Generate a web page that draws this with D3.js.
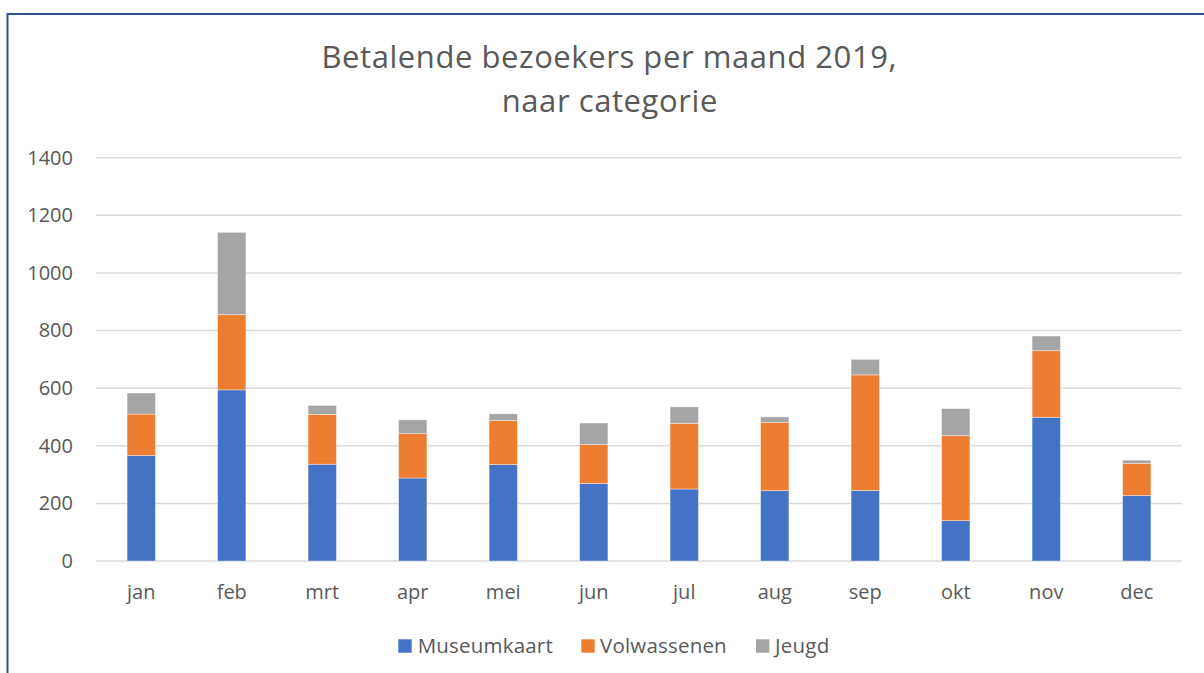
<!DOCTYPE html>
<html>
<head>
<meta charset="utf-8">
<script src="https://cdn.jsdelivr.net/npm/d3@7"></script>
<style>
  html, body { margin: 0; padding: 0; background: #fff; }
  svg { display: block; }
  text { font-family: "Open Sans", "Noto Sans", sans-serif; fill: #595959; }
</style>
</head>
<body>
<svg id="chart" width="1204" height="673"></svg>
<script>
const months = ["jan", "feb", "mrt", "apr", "mei", "jun", "jul", "aug", "sep", "okt", "nov", "dec"];
const seriesNames = ["Museumkaart", "Volwassenen", "Jeugd"];
const museumkaart = [366, 594, 336, 288, 335, 269, 250, 244, 245, 140, 499, 227];
const volwassenen = [144, 261, 173, 154, 153, 135, 228, 237, 401, 295, 231, 112];
const jeugd = [73, 286, 31, 48, 23, 75, 57, 19, 54, 94, 51, 11];
const yTicks = [0, 200, 400, 600, 800, 1000, 1200, 1400];
const colors = ["#4472C4", "#ED7D31", "#A5A5A5"];

const svg = d3.select("#chart");
const W = 1204, H = 673;

// outer border (left and top visible)
svg.append("rect")
  .attr("x", 7.5).attr("y", 14).attr("width", W + 20).attr("height", H + 20)
  .attr("fill", "none").attr("stroke", "#2F528F").attr("stroke-width", 2);

const plot = { left: 96, right: 1182, top: 157.7, bottom: 561 };

const x = d3.scaleBand().domain(months)
  .range([plot.left, plot.right]).paddingInner(0.687).paddingOuter(0.3435);
const y = d3.scaleLinear().domain([0, 1400]).range([plot.bottom, plot.top]);

// title
const title = svg.append("text").attr("text-anchor", "middle").attr("font-size", 31);
title.append("tspan").attr("x", 609).attr("y", 67.5)
  .attr("textLength", 575).attr("lengthAdjust", "spacing")
  .text("Betalende bezoekers per maand 2019,");
title.append("tspan").attr("x", 609.5).attr("y", 111.5)
  .attr("textLength", 215.6).attr("lengthAdjust", "spacing")
  .text("naar categorie");

// gridlines
svg.append("g").selectAll("line").data(yTicks).join("line")
  .attr("x1", plot.left).attr("x2", plot.right)
  .attr("y1", d => y(d)).attr("y2", d => y(d))
  .attr("stroke", "#D9D9D9").attr("stroke-width", 1.5);

// y axis labels
const yAxis = d3.axisLeft(y).tickValues(yTicks).tickFormat(d3.format("d")).tickSize(0).tickPadding(0);
const gy = svg.append("g").attr("transform", `translate(73,0)`).call(yAxis);
gy.select(".domain").remove();
gy.selectAll("text").attr("font-size", 20).attr("fill", "#595959")
  .style("font-family", "'Open Sans', sans-serif");

// stacked bars
const table = months.map((m, i) => ({ month: m, Museumkaart: museumkaart[i], Volwassenen: volwassenen[i], Jeugd: jeugd[i] }));
const stack = d3.stack().keys(seriesNames)(table);
svg.append("g").selectAll("g").data(stack).join("g")
  .attr("fill", (d, i) => colors[i])
  .selectAll("rect").data(d => d).join("rect")
  .attr("x", d => x(d.data.month))
  .attr("width", x.bandwidth())
  .attr("y", d => y(d[1]))
  .attr("height", d => y(d[0]) - y(d[1]))
  .attr("stroke", "#ffffff").attr("stroke-opacity", 0.5).attr("stroke-width", 0.75);

// x axis labels
const xAxis = d3.axisBottom(x).tickSize(0).tickPadding(0);
const gx = svg.append("g").attr("transform", `translate(0,580)`).call(xAxis);
gx.select(".domain").remove();
gx.selectAll("text").attr("font-size", 20).attr("fill", "#595959")
  .attr("dy", "0.95em")
  .style("font-family", "'Open Sans', sans-serif");

// legend
const legendItems = [
  { name: seriesNames[0], sx: 398.3, tx: 417.7, w: 135 },
  { name: seriesNames[1], sx: 581.3, tx: 600, w: 126.7 },
  { name: seriesNames[2], sx: 756, tx: 775, w: 54.3 }
];
const lg = svg.append("g");
legendItems.forEach((it, i) => {
  lg.append("rect").attr("x", it.sx).attr("y", 639.3).attr("width", 13.4).attr("height", 13.4).attr("fill", colors[i]);
  lg.append("text").attr("x", it.tx).attr("y", 652.5).attr("font-size", 20.5)
    .attr("textLength", it.w).attr("lengthAdjust", "spacing").text(it.name);
});
</script>
</body>
</html>
